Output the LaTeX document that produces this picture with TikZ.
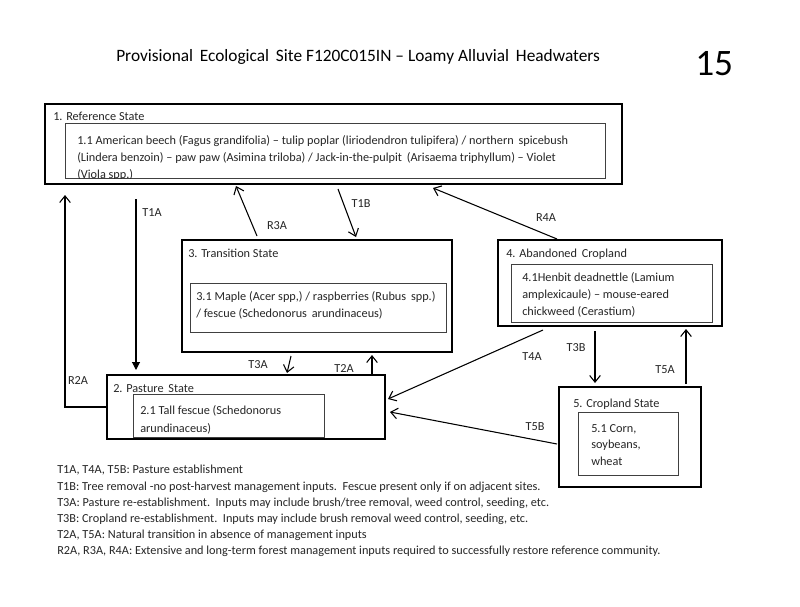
\documentclass[tikz,border=0pt]{standalone}
\usepackage{fontspec}
\setmainfont{Carlito}
\usetikzlibrary{arrows.meta}
\begin{document}
\begin{tikzpicture}[x=0.75pt,y=-0.75pt,
  outerbox/.style={draw=black, line width=1.2pt, inner sep=0pt, outer sep=0pt, anchor=north west},
  innerbox/.style={draw=black!75, line width=0.6pt, inner sep=0pt, outer sep=0pt, anchor=north west},
  txt/.style={inner sep=0pt, anchor=base west, font=\fontsize{9.2}{11}\selectfont, text=black!85},
  lbl/.style={inner sep=0pt, font=\fontsize{9.2}{11}\selectfont, text=black!85},
  arr/.style={draw=black, line width=0.8pt, -{Straight Barb[length=5pt,width=8pt,line width=0.8pt]}},
  farr/.style={draw=black, line width=0.8pt, -{Triangle[length=6pt,width=6pt]}}
]
\useasboundingbox (0,0) rectangle (800,607);
\fill[white] (0,0) rectangle (800,607);

% title
\node[inner sep=0pt, anchor=base west, font=\fontsize{13}{15}\selectfont] (title) at (116,61) {Provisional\, Ecological\, Site F120C015IN -- Loamy Alluvial\, Headwaters};
\node[inner sep=0pt, anchor=base west, font=\fontsize{28}{30}\selectfont] (pg) at (695,75) {15};

% boxes
\node[outerbox, minimum width=577*0.75pt, minimum height=80*0.75pt] (b1) at (45,104) {};
\node[innerbox, minimum width=540*0.75pt, minimum height=55*0.75pt] (i1) at (65,123) {};
\node[outerbox, minimum width=270*0.75pt, minimum height=112*0.75pt] (b3) at (182,240) {};
\node[innerbox, minimum width=256*0.75pt, minimum height=49*0.75pt] (i3) at (190,283) {};
\node[outerbox, minimum width=224*0.75pt, minimum height=86*0.75pt] (b4) at (498,240) {};
\node[innerbox, minimum width=201*0.75pt, minimum height=58*0.75pt] (i4) at (511,264) {};
\node[outerbox, minimum width=278*0.75pt, minimum height=64*0.75pt] (b2) at (107,375) {};
\node[innerbox, minimum width=191*0.75pt, minimum height=43*0.75pt] (i2) at (133,394) {};
\node[outerbox, minimum width=142*0.75pt, minimum height=100*0.75pt] (b5) at (559,387) {};
\node[innerbox, minimum width=100*0.75pt, minimum height=63*0.75pt] (i5) at (578,412) {};

% box texts
\node[txt] (h1) at (53,120) {1. Reference State};
\begin{scope}
\clip (65,123) rectangle (605,178);
\node[txt] (l11) at (77,144) {1.1 American beech (Fagus grandifolia) -- tulip poplar (liriodendron tulipifera) / northern\, spicebush};
\node[txt] (l12) at (77,161) {(Lindera benzoin) -- paw paw (Asimina triloba) / Jack-in-the-pulpit\, (Arisaema triphyllum) -- Violet};
\node[txt] (l13) at (77,178) {(Viola spp.)};
\end{scope}

\node[txt] (h3) at (188,257) {3. Transition State};
\node[txt] (l31) at (196,300) {3.1 Maple (Acer spp,) / raspberries (Rubus\, spp.)};
\node[txt] (l32) at (196,317) {/ fescue (Schedonorus\, arundinaceus)};

\node[txt] (h4) at (506,257) {4. Abandoned\, Cropland};
\node[txt] (l41) at (522,281) {4.1Henbit deadnettle (Lamium};
\node[txt] (l42) at (522,298) {amplexicaule) -- mouse-eared};
\node[txt] (l43) at (522,315) {chickweed (Cerastium)};

\node[txt] (h2) at (113,392) {2. Pasture\, State};
\node[txt] (l21) at (140,414) {2.1 Tall fescue (Schedonorus};
\node[txt] (l22) at (140,432) {arundinaceus)};

\node[txt] (h5) at (573,407) {5. Cropland State};
\node[txt] (l51) at (591,432) {5.1 Corn,};
\node[txt] (l52) at (591,448) {soybeans,};
\node[txt] (l53) at (591,465) {wheat};

% connector end points
\coordinate (r2top) at (65,195);
\coordinate (t1as) at (136,199);
\coordinate (t1ae) at (136,370);
\coordinate (r3as) at (257,236);
\coordinate (r3ae) at (236,186);
\coordinate (t1bs) at (338,189);
\coordinate (t1be) at (356,237);
\coordinate (r4as) at (557,239);
\coordinate (r4ae) at (433,188);
\coordinate (t3as) at (291,356);
\coordinate (t3ae) at (287,373);
\coordinate (t2as) at (372,375);
\coordinate (t2ae) at (372,355);
\coordinate (t4as) at (543,330);
\coordinate (t4ae) at (388,399);
\coordinate (t5bs) at (557,444);
\coordinate (t5be) at (390,412);
\coordinate (t3bs) at (595,331);
\coordinate (t3be) at (595,383);
\coordinate (t5as) at (686,384);
\coordinate (t5ae) at (686,329);

% connectors
\draw[arr] (b2.west) -| (r2top);
\draw[farr] (t1as) -- (t1ae);
\draw[arr] (r3as) -- (r3ae);
\draw[arr] (t1bs) -- (t1be);
\draw[arr] (r4as) -- (r4ae);
\draw[arr] (t3as) -- (t3ae);
\draw[arr] (t2as) -- (t2ae);
\draw[arr] (t4as) -- (t4ae);
\draw[arr] (t5bs) -- (t5be);
\draw[arr] (t3bs) -- (t3be);
\draw[arr] (t5as) -- (t5ae);

% connector labels
\node[lbl] (lr2a) at (78,381) {R2A};
\node[lbl] (lt1a) at (152,213) {T1A};
\node[lbl] (lr3a) at (277,226) {R3A};
\node[lbl] (lt1b) at (361,204) {T1B};
\node[lbl] (lr4a) at (546,218) {R4A};
\node[lbl] (lt3a) at (258,365) {T3A};
\node[lbl] (lt2a) at (344,369) {T2A};
\node[lbl] (lt4a) at (532,357) {T4A};
\node[lbl] (lt5b) at (535,427) {T5B};
\node[lbl] (lt3b) at (576,348) {T3B};
\node[lbl] (lt5a) at (665,370) {T5A};

% legend
\node[txt] (g1) at (57,473) {T1A, T4A, T5B: Pasture establishment};
\node[txt] (g2) at (57,490) {T1B: Tree removal -no post-harvest management inputs.\ \ Fescue present only if on adjacent sites.};
\node[txt] (g3) at (57,506) {T3A: Pasture re-establishment.\ \ Inputs may include brush/tree removal, weed control, seeding, etc.};
\node[txt] (g4) at (57,522) {T3B: Cropland re-establishment.\ \ Inputs may include brush removal weed control, seeding, etc.};
\node[txt] (g5) at (57,538) {T2A, T5A: Natural transition in absence of management inputs};
\node[txt] (g6) at (57,554) {R2A, R3A, R4A: Extensive and long-term forest management inputs required to successfully restore reference community.};
\end{tikzpicture}
\end{document}
